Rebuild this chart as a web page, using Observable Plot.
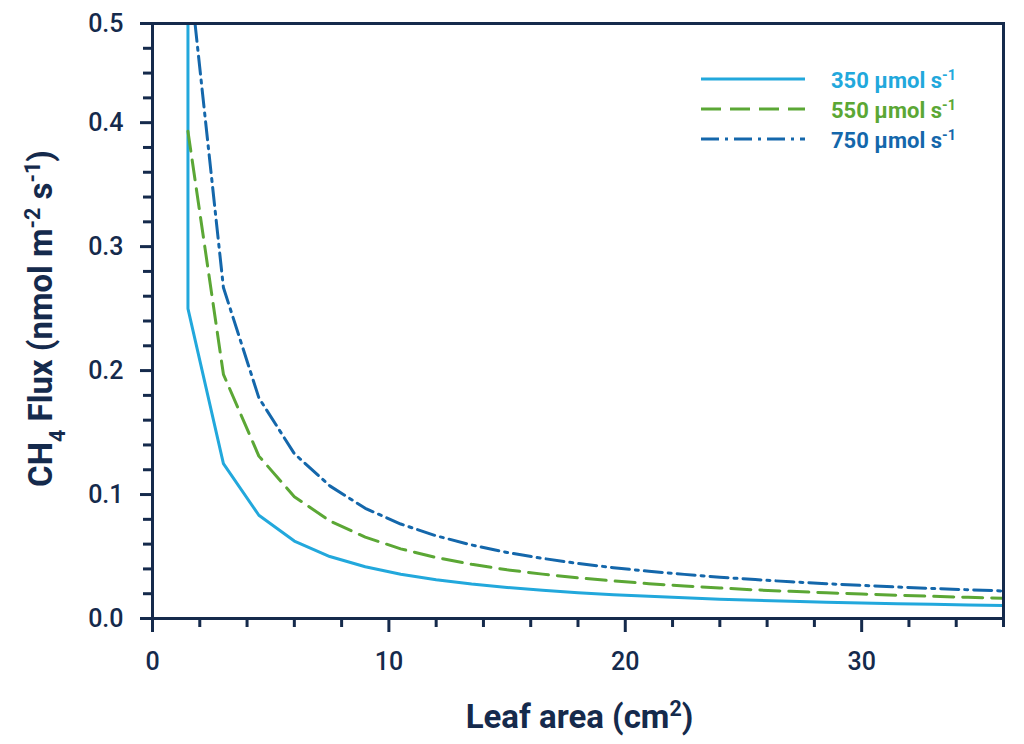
<!DOCTYPE html>
<html>
<head>
<meta charset="utf-8">
<script src="https://cdn.jsdelivr.net/npm/d3@7"></script>
<script src="https://cdn.jsdelivr.net/npm/@observablehq/plot@0.6"></script>
<style>
  html, body { margin: 0; padding: 0; background: #fff; }
  #chart { width: 1024px; height: 744px; }
</style>
</head>
<body>
<div id="chart"></div>
<script>
// ---- data ----
const leafArea = [1.5, 3, 4.5, 6, 7.5, 9, 10.5, 12, 13.5, 15, 16.5, 18, 19.5, 21, 22.5, 24, 25.5, 27, 28.5, 30, 31.5, 33, 34.5, 36];
const leafArea350 = [1.5, 1.5, 3, 4.5, 6, 7.5, 9, 10.5, 12, 13.5, 15, 16.5, 18, 19.5, 21, 22.5, 24, 25.5, 27, 28.5, 30, 31.5, 33, 34.5, 36];
const flux350 = [0.6, 0.25, 0.125, 0.0833, 0.0625, 0.05, 0.0417, 0.0357, 0.0313, 0.0278, 0.025, 0.0227, 0.0208, 0.0192, 0.0179, 0.0167, 0.0156, 0.0147, 0.0139, 0.0132, 0.0125, 0.0119, 0.0114, 0.0109, 0.0104];
const flux550 = [0.393, 0.197, 0.131, 0.0983, 0.0787, 0.0656, 0.0562, 0.0492, 0.0437, 0.0393, 0.0358, 0.0328, 0.0303, 0.0281, 0.0262, 0.0246, 0.0231, 0.0219, 0.0207, 0.0197, 0.0187, 0.0179, 0.0171, 0.0164];
const flux750 = [0.533, 0.267, 0.178, 0.133, 0.107, 0.0889, 0.0762, 0.0667, 0.0593, 0.0533, 0.0485, 0.0444, 0.041, 0.0381, 0.0356, 0.0333, 0.0314, 0.0296, 0.0281, 0.0267, 0.0254, 0.0242, 0.0232, 0.0222];
const seriesNames = ["350", "550", "750"];
const seriesColors = ["#22a8dc", "#5ba735", "#1467ab"];
const seriesDash = [null, "20,9", "18,6,3,6"];
const xMajorTicks = [0, 10, 20, 30];
const xMinorTicks = [2, 4, 6, 8, 12, 14, 16, 18, 22, 24, 26, 28, 32, 34, 36];
const yMajorTicks = [0, 0.1, 0.2, 0.3, 0.4, 0.48];
const yMinorTicks = [0.02, 0.04, 0.06, 0.08, 0.12, 0.14, 0.16, 0.18, 0.22, 0.24, 0.26, 0.28, 0.32, 0.34, 0.36, 0.38, 0.42, 0.44, 0.46];

const navy = "#152a4c";
const rows = [
  leafArea350.map((x, i) => ({x, y: flux350[i], s: "350"})),
  leafArea.map((x, i) => ({x, y: flux550[i], s: "550"})),
  leafArea.map((x, i) => ({x, y: flux750[i], s: "750"}))
];

const plot = Plot.plot({
  width: 1024,
  height: 744,
  marginLeft: 152,
  marginRight: 21,
  marginTop: 23,
  marginBottom: 126,
  style: {fontFamily: "Roboto", color: navy, background: "#fff"},
  x: {domain: [0, 36]},
  y: {domain: [0, 0.48]},
  marks: [
    ...rows.map((r, i) => Plot.line(r, {
      x: "x", y: "y", stroke: seriesColors[i], strokeWidth: 3,
      strokeDasharray: seriesDash[i], clip: true
    })),
    Plot.axisX({ticks: xMinorTicks, tickSize: 9, text: null, strokeWidth: 3, label: null}),
    Plot.axisX({ticks: xMajorTicks, tickSize: 14, tickPadding: 20, strokeWidth: 3, fontSize: 25, fontWeight: 500, label: null}),
    Plot.axisY({ticks: yMinorTicks, tickSize: 9, text: null, strokeWidth: 3, label: null}),
    Plot.axisY({ticks: yMajorTicks, tickSize: 12, tickPadding: 17, tickFormat: d3.format(".1f"), strokeWidth: 3, fontSize: 25, fontWeight: 500, label: null}),
    Plot.frame({stroke: navy, strokeWidth: 3})
  ]
});
document.getElementById("chart").appendChild(plot);

// ---- axis titles and legend with true super/subscripts ----
const svg = d3.select(plot);
const xs = plot.scale("x"), ys = plot.scale("y");
const [x0, x1] = xs.range, [y0, y1] = ys.range; // y0 bottom, y1 top

function richText(g, parts) {
  parts.forEach(p => {
    const t = g.append("tspan").text(p.t);
    if (p.sup) t.attr("baseline-shift", "super").attr("font-size", "0.65em");
    if (p.sub) t.attr("baseline-shift", "sub").attr("font-size", "0.65em");
  });
}

const xTitle = svg.append("text")
  .attr("x", (x0 + x1) / 2 + 2).attr("y", y0 + 110)
  .attr("text-anchor", "middle").attr("font-family", "Roboto").attr("font-weight", 700)
  .attr("font-size", 33).attr("fill", navy);
richText(xTitle, [{t: "Leaf area (cm"}, {t: "2", sup: true}, {t: ")"}]);

const yTitle = svg.append("text")
  .attr("transform", `translate(52,${(y0 + y1) / 2 - 2}) rotate(-90)`)
  .attr("text-anchor", "middle").attr("font-family", "Roboto").attr("font-weight", 700)
  .attr("font-size", 33).attr("fill", navy);
richText(yTitle, [{t: "CH"}, {t: "4", sub: true}, {t: " Flux (nmol m"}, {t: "-2", sup: true}, {t: " s"}, {t: "-1", sup: true}, {t: ")"}]);

const legend = svg.append("g").attr("transform", `translate(${x1 - 302},${y1 + 56})`);
seriesNames.forEach((name, i) => {
  const gy = i * 30;
  legend.append("line").attr("x1", 0).attr("x2", 104).attr("y1", gy).attr("y2", gy)
    .attr("stroke", seriesColors[i]).attr("stroke-width", 3)
    .attr("stroke-dasharray", seriesDash[i]);
  const t = legend.append("text").attr("x", 130).attr("y", gy + 9)
    .attr("text-anchor", "start")
    .attr("font-family", "Roboto").attr("font-weight", 700).attr("font-size", 22)
    .attr("fill", seriesColors[i]);
  richText(t, [{t: name + " μmol s"}, {t: "-1", sup: true}]);
});
</script>
</body>
</html>
